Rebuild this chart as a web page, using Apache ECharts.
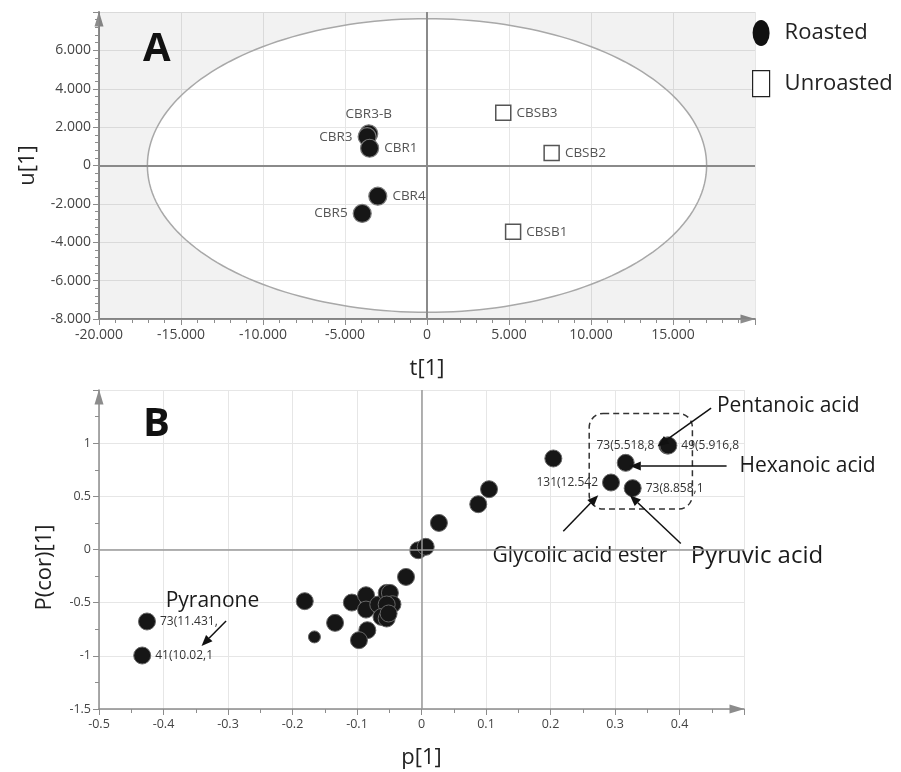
<!DOCTYPE html>
<html><head><meta charset="utf-8">
<script src="https://cdn.jsdelivr.net/npm/echarts@6/dist/echarts.min.js"></script>
<style>html,body{margin:0;padding:0;background:#fff}#c{width:901px;height:772px}</style>
</head><body><div id="c"></div>
<script>
// ---------- Panel A: scores ----------
const roastedNames = ['CBR3-B', 'CBR3', 'CBR1', 'CBR4', 'CBR5'];
const roastedT = [-3550, -3650, -3500, -3000, -3950];
const roastedU = [1650, 1500, 900, -1600, -2500];
const unroastedNames = ['CBSB1', 'CBSB2', 'CBSB3'];
const unroastedT = [5250, 7600, 4650];
const unroastedU = [-3450, 650, 2750];
const ellipseRadiusT = 17050;
const ellipseRadiusU = 7650;

// ---------- Panel B: loadings ----------
const loadP = [-0.181, -0.134, -0.108, -0.086, -0.086, -0.084, -0.097, -0.067, -0.054, -0.049, -0.045, -0.054, -0.062, -0.054, -0.051, -0.024, -0.005, 0.0065, 0.027, 0.088, 0.1047, 0.2044, 0.3166];
const loadPcor = [-0.486, -0.690, -0.499, -0.430, -0.565, -0.759, -0.853, -0.518, -0.408, -0.408, -0.515, -0.517, -0.634, -0.649, -0.602, -0.258, -0.007, 0.025, 0.25, 0.426, 0.567, 0.856, 0.815];
const smallP = [-0.166];
const smallPcor = [-0.822];
const namedP = [-0.4256, -0.433, 0.2938, 0.381, 0.3827, 0.3274];
const namedPcor = [-0.677, -0.997, 0.630, 0.978, 0.978, 0.577];
const namedLabels = ['73(11.431,', '41(10.02,1', '131(12.542', '73(5.518,8', '49(5.916,8', '73(8.858,1'];

const annotationTexts = ['Pentanoic acid', 'Hexanoic acid', 'Glycolic acid ester', 'Pyruvic acid', 'Pyranone'];
const annotationP = [0.458, 0.493, 0.2457, 0.4176, -0.3966];
const annotationPcor = [1.347, 0.786, -0.06, -0.06, -0.484];
const arrowFromP = [0.449, 0.473, 0.2198, 0.402, -0.303];
const arrowFromPcor = [1.329, 0.786, 0.172, 0.056, -0.672];
const arrowToP = [0.366, 0.323, 0.274, 0.323, -0.341];
const arrowToPcor = [0.972, 0.786, 0.511, 0.511, -0.907];
const boxCorners = [[0.26, 1.28, 0.42, 0.38]];

// ---------- styles (kept apart from data) ----------
const FONT = 'Open Sans';
const roastedLabelPos = { 'CBR3-B': 'top', 'CBR3': 'left', 'CBR1': 'right', 'CBR4': 'right', 'CBR5': 'left' };
const namedLabelPos = ['right', 'right', 'left', 'left', 'right', 'right'];
const annotationAlign = ['left', 'left', 'center', 'left', 'left'];
const annotationSize = [21, 21, 21, 24, 21];
const axisGray = '#8c8c8c';

function axisCommon(extra) {
  return Object.assign({
    type: 'value',
    axisLine: { onZero: false, lineStyle: { color: axisGray, width: 2 }, symbol: ['none', 'triangle'], symbolSize: [9, 15], symbolOffset: [0, -7] },
    axisTick: { length: 6, lineStyle: { color: axisGray } },
    minorTick: { show: true, length: 4, lineStyle: { color: axisGray } },
    splitLine: { show: true, lineStyle: { color: '#e6e6e6', width: 1 } },
    minorSplitLine: { show: false },
    nameLocation: 'middle',
    nameTextStyle: { fontSize: 22, color: '#222', fontFamily: FONT }
  }, extra);
}

const fmtA = v => v === 0 ? '0' : (v / 1000).toFixed(3);

const chart = echarts.init(document.getElementById('c'), null, { renderer: 'canvas' });

chart.setOption({
  animation: false,
  backgroundColor: '#fff',
  textStyle: { fontFamily: FONT },
  title: [
    { text: 'A', left: 138, top: 25, textStyle: { fontSize: 40, fontWeight: 'bold', color: '#111', fontFamily: FONT } },
    { text: 'B', left: 138, top: 400, textStyle: { fontSize: 40, fontWeight: 'bold', color: '#111', fontFamily: FONT } }
  ],
  legend: {
    orient: 'vertical', left: 747, top: 15, itemGap: 24, itemWidth: 17, itemHeight: 26,
    textStyle: { fontSize: 22, color: '#222', fontFamily: FONT, padding: [0, 0, 0, 10] },
    data: [
      { name: 'Roasted', icon: 'path://M8.5,0 A8.5,13 0 1,1 8.5,26 A8.5,13 0 1,1 8.5,0 Z', itemStyle: { color: '#111', borderWidth: 0 } },
      { name: 'Unroasted', icon: 'rect', itemStyle: { color: '#fff', borderColor: '#222', borderWidth: 1.2 } }
    ]
  },
  grid: [
    { left: 99, top: 12, width: 656, height: 307 },
    { left: 99, top: 390, width: 645, height: 319 }
  ],
  xAxis: [
    axisCommon({ gridIndex: 0, min: -20000, max: 20000, interval: 5000,
      minorTick: { show: true, splitNumber: 5, length: 4, lineStyle: { color: axisGray } },
      axisLabel: { showMaxLabel: false, formatter: fmtA, fontSize: 14, color: '#444', margin: 9 },
      name: 't[1]', nameGap: 39 }),
    axisCommon({ gridIndex: 1, min: -0.5, max: 0.5, interval: 0.1,
      axisLine: { onZero: false, lineStyle: { color: axisGray, width: 1.5 }, symbol: ['none', 'triangle'], symbolSize: [9, 15], symbolOffset: [0, -7] },
      minorTick: { show: true, splitNumber: 2, length: 4, lineStyle: { color: axisGray } },
      axisLabel: { showMaxLabel: false, fontSize: 12.5, color: '#444', margin: 9 },
      name: 'p[1]', nameGap: 38 })
  ],
  yAxis: [
    axisCommon({ gridIndex: 0, min: -8000, max: 8000, interval: 2000,
      minorTick: { show: true, splitNumber: 5, length: 4, lineStyle: { color: axisGray } },
      axisLabel: { showMaxLabel: false, formatter: fmtA, fontSize: 14, color: '#444', margin: 8 },
      name: 'u[1]', nameGap: 60 }),
    axisCommon({ gridIndex: 1, min: -1.5, max: 1.5, interval: 0.5,
      axisLine: { onZero: false, lineStyle: { color: axisGray, width: 1.5 }, symbol: ['none', 'triangle'], symbolSize: [9, 15], symbolOffset: [0, -7] },
      minorTick: { show: true, splitNumber: 2, length: 4, lineStyle: { color: axisGray } },
      axisLabel: { showMaxLabel: false, fontSize: 12.5, color: '#444', margin: 8 },
      name: 'P(cor)[1]', nameGap: 43,
      nameTextStyle: { fontSize: 22, color: '#222', fontFamily: FONT, padding: [0, 36, 0, 0] } })
  ],
  series: [
    // ellipse + shaded outside region
    {
      type: 'custom', xAxisIndex: 0, yAxisIndex: 0, silent: true, z: 1,
      data: [[0, 0]],
      renderItem: function (params, api) {
        const cs = params.coordSys;
        const c = api.coord([0, 0]);
        const rx = api.size([ellipseRadiusT, 0])[0];
        const ry = api.size([0, ellipseRadiusU])[1];
        const L = cs.x, T = cs.y, R = cs.x + cs.width, B = cs.y + cs.height;
        const ell = [];
        const N = 200;
        for (let k = 0; k <= N; k++) {
          const t = 2 * Math.PI * k / N;
          ell.push([c[0] - rx * Math.cos(t), c[1] + ry * Math.sin(t)]);
        }
        const outer = [[L, c[1]], [L, T], [R, T], [R, B], [L, B], [L, c[1]]].concat(ell);
        return {
          type: 'group',
          children: [
            { type: 'polygon', shape: { points: outer }, style: { fill: 'rgba(0,0,0,0.05)', stroke: 'none' } },
            { type: 'polyline', shape: { points: ell }, style: { fill: 'none', stroke: '#a8a8a8', lineWidth: 1.5 } }
          ]
        };
      },
      markLine: {
        silent: true, symbol: 'none', label: { show: false },
        lineStyle: { color: '#8a8a8a', width: 2, type: 'solid' },
        data: [{ xAxis: 0 }, { yAxis: 0 }]
      }
    },
    {
      type: 'scatter', name: 'Roasted', xAxisIndex: 0, yAxisIndex: 0, z: 3,
      symbol: 'circle', symbolSize: 18,
      itemStyle: { color: '#161616', borderColor: '#7a7a7a', borderWidth: 1.2, opacity: 1 },
      label: { show: true, formatter: '{b}', fontSize: 13.5, color: '#555', distance: 5, fontFamily: FONT },
      data: roastedNames.map((n, i) => ({ name: n, value: [roastedT[i], roastedU[i]], label: { position: roastedLabelPos[n], distance: n === 'CBR3-B' ? 3 : 5 } }))
    },
    {
      type: 'scatter', name: 'Unroasted', xAxisIndex: 0, yAxisIndex: 0, z: 3,
      symbol: 'rect', symbolSize: 15,
      itemStyle: { color: '#fff', borderColor: '#555', borderWidth: 1.5, opacity: 1 },
      label: { show: true, formatter: '{b}', position: 'right', fontSize: 13.5, color: '#555', distance: 5, fontFamily: FONT },
      data: unroastedNames.map((n, i) => ({ name: n, value: [unroastedT[i], unroastedU[i]] }))
    },
    // Panel B zero lines + dashed box
    {
      type: 'custom', xAxisIndex: 1, yAxisIndex: 1, silent: true, z: 1,
      encode: { x: [0, 2], y: [1, 3] },
      data: boxCorners,
      renderItem: function (params, api) {
        const p1 = api.coord([api.value(0), api.value(1)]);
        const p2 = api.coord([api.value(2), api.value(3)]);
        return {
          type: 'rect',
          shape: { x: Math.min(p1[0], p2[0]), y: Math.min(p1[1], p2[1]), width: Math.abs(p2[0] - p1[0]), height: Math.abs(p2[1] - p1[1]), r: 14 },
          style: { fill: 'none', stroke: '#333', lineWidth: 1.5, lineDash: [6, 4] }
        };
      },
      markLine: {
        silent: true, symbol: 'none', label: { show: false },
        lineStyle: { color: '#999', width: 1.5, type: 'solid' },
        data: [{ xAxis: 0 }, { yAxis: 0 }]
      }
    },
    {
      type: 'scatter', name: 'loadings', xAxisIndex: 1, yAxisIndex: 1, z: 3,
      symbol: 'circle', symbolSize: 17,
      itemStyle: { color: '#161616', borderColor: '#666', borderWidth: 1, opacity: 1 },
      data: loadP.map((v, i) => [v, loadPcor[i]])
    },
    {
      type: 'scatter', name: 'loadingsSmall', xAxisIndex: 1, yAxisIndex: 1, z: 3,
      symbol: 'circle', symbolSize: 12,
      itemStyle: { color: '#161616', borderColor: '#666', borderWidth: 1, opacity: 1 },
      data: smallP.map((v, i) => [v, smallPcor[i]])
    },
    {
      type: 'scatter', name: 'loadingsNamed', xAxisIndex: 1, yAxisIndex: 1, z: 3,
      symbol: 'circle', symbolSize: 17,
      itemStyle: { color: '#161616', borderColor: '#666', borderWidth: 1, opacity: 1 },
      label: { show: true, formatter: '{b}', fontSize: 12, color: '#333', distance: 4, fontFamily: FONT },
      data: namedP.map((v, i) => ({ name: namedLabels[i], value: [v, namedPcor[i]], label: { position: namedLabelPos[i] } }))
    },
    // arrows
    {
      type: 'custom', xAxisIndex: 1, yAxisIndex: 1, silent: true, z: 4, clip: false,
      encode: { x: [0, 2], y: [1, 3] },
      data: arrowFromP.map((v, i) => [v, arrowFromPcor[i], arrowToP[i], arrowToPcor[i]]),
      renderItem: function (params, api) {
        const a = api.coord([api.value(0), api.value(1)]);
        const b = api.coord([api.value(2), api.value(3)]);
        const dx = b[0] - a[0], dy = b[1] - a[1];
        const len = Math.sqrt(dx * dx + dy * dy);
        const ux = dx / len, uy = dy / len;
        const hl = 11, hw = 4.5;
        const base = [b[0] - ux * hl, b[1] - uy * hl];
        return {
          type: 'group',
          children: [
            { type: 'line', shape: { x1: a[0], y1: a[1], x2: base[0], y2: base[1] }, style: { stroke: '#111', lineWidth: 1.5 } },
            { type: 'polygon', shape: { points: [b, [base[0] - uy * hw, base[1] + ux * hw], [base[0] + uy * hw, base[1] - ux * hw]] }, style: { fill: '#111' } }
          ]
        };
      }
    },
    // annotation texts
    {
      type: 'custom', xAxisIndex: 1, yAxisIndex: 1, silent: true, z: 4, clip: false,
      data: annotationP.map((v, i) => [v, annotationPcor[i], i]),
      renderItem: function (params, api) {
        const p = api.coord([api.value(0), api.value(1)]);
        const i = api.value(2);
        return {
          type: 'text',
          style: { text: annotationTexts[i], x: p[0], y: p[1], fill: '#1a1a1a', fontSize: annotationSize[i], fontFamily: FONT, align: annotationAlign[i], verticalAlign: 'middle' }
        };
      }
    }
  ]
});
</script>
</body></html>
